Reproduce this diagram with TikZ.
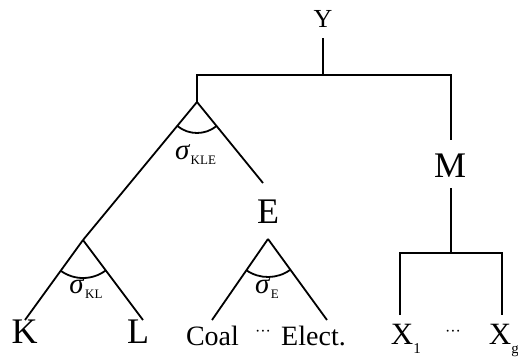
\documentclass[tikz,border=0pt]{standalone}
\usepackage{fontspec}
\setmainfont{Liberation Serif}
\newcommand{\sigsub}[1]{\textit{σ}\kern0.5pt\raisebox{-5pt}{\fontsize{13}{13}\selectfont #1}}
\newcommand{\xsub}[1]{X\raisebox{-9pt}{\fontsize{15}{15}\selectfont #1}}
\begin{document}
\begin{tikzpicture}[x=1pt,y=-1pt,line width=1.8pt,line join=miter,
  lbl/.style={inner sep=0pt,anchor=base,font=\fontsize{36}{36}\selectfont},
  toplbl/.style={inner sep=0pt,anchor=base,font=\fontsize{26}{26}\selectfont},
  word/.style={inner sep=0pt,anchor=base,font=\fontsize{28}{28}\selectfont},
  xlbl/.style={inner sep=0pt,anchor=base west,font=\fontsize{31}{31}\selectfont},
  sig/.style={inner sep=0pt,anchor=base,font=\fontsize{29}{29}\selectfont},
  dots/.style={inner sep=0pt,font=\fontsize{16}{16}\selectfont},
  elas/.style={line width=1.8pt}]
\useasboundingbox (0,0) rectangle (518,356);

% labels
\node[toplbl] (Y) at (323,27) {Y};
\node[lbl] (M) at (450,177) {M};
\node[lbl] (E) at (268,223) {E};
\node[lbl] (K) at (24.5,343) {K};
\node[lbl] (L) at (138,343) {L};
\node[word] (Coal) at (212.5,345) {Coal};
\node[dots] (d1) at (263,333) {···};
\node[word] (Elect) at (313.5,345) {Elect.};
\node[xlbl] (X1) at (390,344) {\xsub{1}};
\node[dots] (d2) at (453,333) {···};
\node[xlbl] (Xg) at (488,344) {\xsub{g}};

\node[sig] (sKLE) at (195.5,159) {\sigsub{KLE}};
\node[sig] (sKL) at (86,293) {\sigsub{KL}};
\node[sig] (sE) at (267,293) {\sigsub{E}};

% junction points
\coordinate (Yb) at (323,38);
\coordinate (bar) at (323,75);
\coordinate (KLE) at (197,102);
\coordinate (Mt) at (451,140);
\coordinate (Mb) at (451,188);
\coordinate (Mbar) at (451,253);
\coordinate (X1t) at (400,315);
\coordinate (Xgt) at (502,315);
\coordinate (KL) at (83,240);
\coordinate (Eend) at (263,183);
\coordinate (Eap) at (268,239);
\coordinate (Kt) at (25,320);
\coordinate (Lt) at (143,320);
\coordinate (Ct) at (212,320);
\coordinate (Elt) at (327,320);

% tree lines
\draw (Yb) -- (bar);
\draw (KLE) |- (bar) -| (Mt);
\draw (KLE) -- (KL);
\draw (KLE) -- (Eend);
\draw (KL) -- (Kt);
\draw (KL) -- (Lt);
\draw (Eap) -- (Ct);
\draw (Eap) -- (Elt);
\draw (Mb) -- (Mbar);
\draw (X1t) |- (Mbar) -| (Xgt);

% elasticity arcs
\draw[elas] (KLE) ++(129.6:31) arc[start angle=129.6,end angle=50.2,radius=31];
\draw[elas] (KL) ++(126:38) arc[start angle=126,end angle=53,radius=38];
\draw[elas] (Eap) ++(125:38) arc[start angle=125,end angle=54,radius=38];
\end{tikzpicture}
\end{document}
